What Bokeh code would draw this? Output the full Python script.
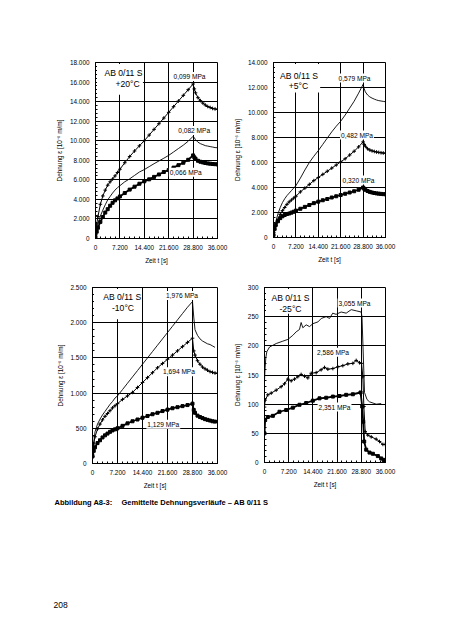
from bokeh.plotting import figure
from bokeh.models import Range1d, FixedTicker, Label, BoxAnnotation
from bokeh.layouts import column, row
from bokeh.embed import file_html
from bokeh.resources import INLINE

FONT = "Liberation Sans"

# ---------------- data ----------------
X_TICKS = [0, 7200, 14400, 21600, 28800, 36000]
X_TICK_LABELS = ["0", "7.200", "14.400", "21.600", "28.800", "36.000"]

Y1_TICKS = [0, 2000, 4000, 6000, 8000, 10000, 12000, 14000, 16000, 18000]
Y1_LABELS = ["0", "2.000", "4.000", "6.000", "8.000", "10.000", "12.000", "14.000", "16.000", "18.000"]
Y2_TICKS = [0, 2000, 4000, 6000, 8000, 10000, 12000, 14000]
Y2_LABELS = ["0", "2.000", "4.000", "6.000", "8.000", "10.000", "12.000", "14.000"]
Y3_TICKS = [0, 500, 1000, 1500, 2000, 2500]
Y3_LABELS = ["0", "500", "1.000", "1.500", "2.000", "2.500"]
Y4_TICKS = [0, 50, 100, 150, 200, 250, 300]
Y4_LABELS = ["0", "50", "100", "150", "200", "250", "300"]

# time points (s) at which the smooth curves were read
T = [0, 360, 720, 1440, 2160, 2880, 3600, 4320, 5040, 5760, 6480, 7200, 8640, 10080,
     11520, 12960, 14400, 15840, 17280, 18720, 20160, 21600, 23040, 24480, 25920,
     27360, 28800, 29160, 29520, 30240, 30960, 31680, 32400, 33120, 33840, 34560,
     35280, 36000]

# +20 C
P20_099 = [300, 1500, 2250, 3500, 4350, 4950, 5450, 5800, 6080, 6400, 6750, 7080, 7750,
           8380, 8950, 9480, 10000, 10580, 11160, 11740, 12320, 12900, 13480, 14060,
           14640, 15220, 15800, 15300, 14900, 14400, 14100, 13850, 13650, 13500, 13400,
           13300, 13250, 13200]
P20_082 = [200, 900, 1500, 2300, 2900, 3450, 3950, 4300, 4650, 4950, 5200, 5400, 5800,
           6100, 6450, 6800, 7050, 7350, 7650, 7930, 8210, 8500, 8850, 9200, 9550, 9950,
           10450, 10300, 10100, 9850, 9700, 9600, 9500, 9450, 9400, 9350, 9300, 9280]
P20_066 = [100, 700, 1100, 1700, 2200, 2650, 3000, 3350, 3650, 3900, 4100, 4300, 4650,
           5000, 5300, 5600, 5850, 6050, 6300, 6550, 6800, 7000, 7250, 7500, 7750, 8050,
           8500, 8300, 8150, 7950, 7850, 7780, 7720, 7680, 7650, 7620, 7600, 7580]

# +5 C
P5_579 = [200, 800, 1250, 1900, 2400, 2800, 3100, 3350, 3550, 3750, 3950, 4150, 4750,
          5400, 6000, 6500, 6950, 7450, 7950, 8450, 8900, 9300, 9800, 10350, 10900,
          11550, 12250, 11900, 11650, 11400, 11250, 11150, 11070, 11000, 10950, 10920,
          10890, 10860]
P5_482 = [200, 600, 950, 1450, 1850, 2150, 2400, 2650, 2850, 3000, 3150, 3300, 3650,
          3950, 4250, 4550, 4800, 5050, 5300, 5550, 5800, 6050, 6300, 6600, 6900, 7250,
          7650, 7450, 7300, 7100, 7000, 6930, 6880, 6840, 6810, 6780, 6760, 6740]
P5_320 = [200, 700, 1000, 1300, 1550, 1700, 1800, 1880, 1920, 1990, 2060, 2150, 2300,
          2450, 2600, 2750, 2870, 2980, 3080, 3200, 3300, 3400, 3500, 3600, 3700, 3820,
          4000, 3900, 3820, 3720, 3650, 3600, 3560, 3530, 3510, 3490, 3470, 3460]

# -10 C
M10_1976 = [130, 300, 450, 560, 630, 690, 740, 790, 840, 880, 930, 960, 1050, 1140, 1230,
            1320, 1410, 1500, 1590, 1680, 1770, 1860, 1950, 2040, 2130, 2220, 2300, 2080,
            1900, 1820, 1770, 1740, 1720, 1700, 1690, 1670, 1650]
M10_1694 = [130, 280, 380, 490, 560, 620, 670, 710, 750, 790, 820, 850, 910, 960, 1010,
            1080, 1150, 1220, 1290, 1360, 1420, 1480, 1540, 1600, 1660, 1720, 1780, 1600,
            1540, 1460, 1410, 1370, 1345, 1325, 1305, 1295, 1285, 1280]
M10_1129 = [100, 180, 230, 290, 330, 370, 400, 425, 450, 470, 485, 500, 535, 570, 600,
            625, 650, 675, 700, 720, 745, 765, 785, 800, 815, 830, 850, 760, 720, 680,
            660, 645, 630, 620, 610, 600, 595]

# -25 C (noisy curves, read at their own times)
M25_3055_T = [0, 150, 400, 700, 1500, 3500, 5450, 6950, 8430, 9420, 10400, 10900, 11400,
              12400, 13400, 14400, 15900, 16900, 18350, 19350, 20300, 21300, 22800, 24300,
              25800, 27300, 28770, 29000, 29300, 29760, 30500, 31250, 33230, 34720]
M25_3055_V = [140, 160, 180, 190, 198, 204, 208, 211, 218, 224, 228, 240, 231, 236, 233,
              238, 241, 247, 250, 247, 256, 254, 258, 256, 262, 260, 258, 250, 200, 120,
              108, 104, 100, 101]
M25_2586_T = [0, 200, 1000, 2000, 3470, 4960, 5950, 6940, 7940, 8930, 9920, 10900, 11900,
              12900, 13900, 15380, 16860, 17860, 18850, 20340, 21820, 23310, 24800, 26290,
              27280, 28270, 28870, 29260, 29560, 29960, 30750, 31740, 33230, 34220, 35220,
              35910]
M25_2586_V = [95, 107, 116, 119, 124, 130, 135, 143, 140, 143, 147, 151, 148, 145, 153,
              154, 159, 163, 160, 161, 164, 166, 169, 170, 175, 171, 170, 147, 96, 53, 47,
              44, 40, 36, 31, 31]
M25_2351_T = [0, 200, 990, 2480, 4460, 6450, 8430, 10420, 12400, 14380, 16370, 18350,
              20340, 22320, 24300, 26290, 28570, 29070, 29360, 29660, 30260, 31250, 32240,
              33730, 34720, 35410, 35810]
M25_2351_V = [50, 73, 78, 80, 87, 90, 94, 99, 102, 106, 110, 111, 113, 114, 116, 117, 120,
              96, 70, 36, 22, 17, 15, 11, 7, 4.5, 2]

X_LABEL = "Zeit t [s]"
Y_LABEL = "Dehnung ε [10⁻⁶ m/m]"


def draw(p, t, v, style):
    if style == "thin":
        p.line(t, v, line_color="black", line_width=0.9)
    elif style == "cross":
        p.line(t, v, line_color="black", line_width=1)
        p.scatter(t, v, marker="cross", size=3.6, line_color="black", line_width=1)
    else:
        p.line(t, v, line_color="black", line_width=1.8)
        p.scatter(t, v, marker="square", size=3, line_color="black", fill_color="black")


def panel(y_end, y_ticks, y_labels, y_minor, fw, fh, bl, br, bt, bb,
          curves, title, tbox, mpa):
    p = figure(frame_width=fw, frame_height=fh, min_border_left=bl, min_border_right=br,
               min_border_top=bt, min_border_bottom=bb,
               x_range=Range1d(0, 36000), y_range=Range1d(0, y_end),
               toolbar_location=None, output_backend="svg")
    p.background_fill_color = "white"
    p.border_fill_color = "white"
    p.outline_line_color = "black"
    p.outline_line_width = 1

    p.xaxis.ticker = FixedTicker(ticks=X_TICKS, minor_ticks=[i * 1440 for i in range(26)])
    p.xaxis.major_label_overrides = {t: s for t, s in zip(X_TICKS, X_TICK_LABELS)}
    nminor = int(round(y_end / y_minor)) + 1
    p.yaxis.ticker = FixedTicker(ticks=y_ticks, minor_ticks=[i * y_minor for i in range(nminor)])
    p.yaxis.major_label_overrides = {t: s for t, s in zip(y_ticks, y_labels)}

    for ax in (p.xaxis, p.yaxis):
        ax.axis_line_color = "black"
        ax.major_tick_in = 3
        ax.major_tick_out = 0
        ax.minor_tick_in = 2
        ax.minor_tick_out = 0
        ax.major_tick_line_color = "black"
        ax.minor_tick_line_color = "black"
        ax.major_label_text_font = FONT
        ax.major_label_text_font_size = "6.4px"
        ax.major_label_text_color = "black"
        ax.major_label_standoff = 6
        ax.axis_label_text_font = FONT
        ax.axis_label_text_font_size = "6.4px"
        ax.axis_label_text_font_style = "normal"
        ax.axis_label_text_color = "black"
        ax.axis_label_standoff = 4
    p.xaxis.axis_label = X_LABEL
    p.yaxis.axis_label = Y_LABEL

    p.xgrid.ticker = FixedTicker(ticks=X_TICKS)
    p.ygrid.ticker = FixedTicker(ticks=y_ticks)
    p.grid.grid_line_color = "black"
    p.grid.grid_line_width = 1
    p.grid.grid_line_alpha = 1

    for t, v, style in curves:
        draw(p, t, v, style)

    # white box behind the panel title
    px_x = 36000 / fw
    px_y = y_end / fh
    p.add_layout(BoxAnnotation(left=1.5 * px_x, right=tbox[0], bottom=tbox[1],
                               top=y_end - 1.5 * px_y, fill_color="white", fill_alpha=1,
                               line_color=None))
    for (x, y, txt) in title:
        p.add_layout(Label(x=x, y=y, text=txt, text_align="center", text_baseline="middle",
                           text_font=FONT, text_font_size="8.6px", text_color="black"))
    for (x, y, txt) in mpa:
        p.add_layout(Label(x=x, y=y, text=txt, text_align="center", text_baseline="middle",
                           text_font=FONT, text_font_size="6.6px", text_color="black",
                           background_fill_color="white", background_fill_alpha=1,
                           padding=1))
    return p


p1 = panel(18000, Y1_TICKS, Y1_LABELS, 400, 122, 176, 95, 13, 61, 35,
           [(T, P20_099, "cross"), (T, P20_082, "thin"), (T, P20_066, "thick")],
           [(8260, 16950, "AB 0/11 S"), (9440, 15800, "+20°C")], (14000, 14700),
           [(27740, 16570, "0,099 MPa"), (29120, 11045, "0,082 MPa"),
            (26650, 6780, "0,066 MPa")])

p2 = panel(14000, Y2_TICKS, Y2_LABELS, 400, 112, 175, 39, 63, 62, 35,
           [(T, P5_579, "thin"), (T, P5_482, "cross"), (T, P5_320, "thick")],
           [(8200, 12960, "AB 0/11 S"), (8040, 12120, "+5°C")], (15000, 11600),
           [(26040, 12760, "0,579 MPa"), (26840, 8200, "0,482 MPa"),
            (27320, 4600, "0,320 MPa")])

p3 = panel(2500, Y3_TICKS, Y3_LABELS, 100, 125, 176, 92, 13, 14, 30,
           [(T[:len(M10_1976)], M10_1976, "thin"), (T, M10_1694, "cross"),
            (T[:len(M10_1129)], M10_1129, "thick")],
           [(8550, 2364, "AB 0/11 S"), (8780, 2206, "-10°C")], (13800, 2050),
           [(25780, 2386, "1,976 MPa"), (24910, 1302, "1,694 MPa"),
            (20390, 557, "1,129 MPa")])

p4 = panel(300, Y4_TICKS, Y4_LABELS, 10, 121, 175, 30, 63, 15, 30,
           [(M25_3055_T, M25_3055_V, "thin"), (M25_2586_T, M25_2586_V, "cross"),
            (M25_2351_T, M25_2351_V, "thick")],
           [(7740, 282, "AB 0/11 S"), (7740, 263.7, "-25°C")], (14000, 255),
           [(26780, 273.4, "3,055 MPa"), (20380, 189, "2,586 MPa"),
            (20830, 95, "2,351 MPa")])

cap = figure(width=444, height=140, x_range=Range1d(0, 444), y_range=Range1d(140, 0),
             x_axis_type=None, y_axis_type=None, min_border=0,
             toolbar_location=None, output_backend="svg")
cap.outline_line_color = None
cap.add_layout(Label(x=54, y=9.7, text="Abbildung A8-3:", text_align="left",
                     text_baseline="middle", text_font=FONT, text_font_size="7.5px",
                     text_font_style="bold", text_color="black"))
cap.add_layout(Label(x=121, y=9.7, text="Gemittelte Dehnungsverläufe – AB 0/11 S",
                     text_align="left", text_baseline="middle", text_font=FONT,
                     text_font_size="7.5px", text_font_style="bold", text_color="black"))
cap.add_layout(Label(x=53, y=112, text="208", text_align="left", text_baseline="middle",
                     text_font=FONT, text_font_size="8.5px", text_color="black"))

layout = column(row(p1, p2), row(p3, p4), cap)
open("out.html", "w").write(file_html(layout, INLINE))
